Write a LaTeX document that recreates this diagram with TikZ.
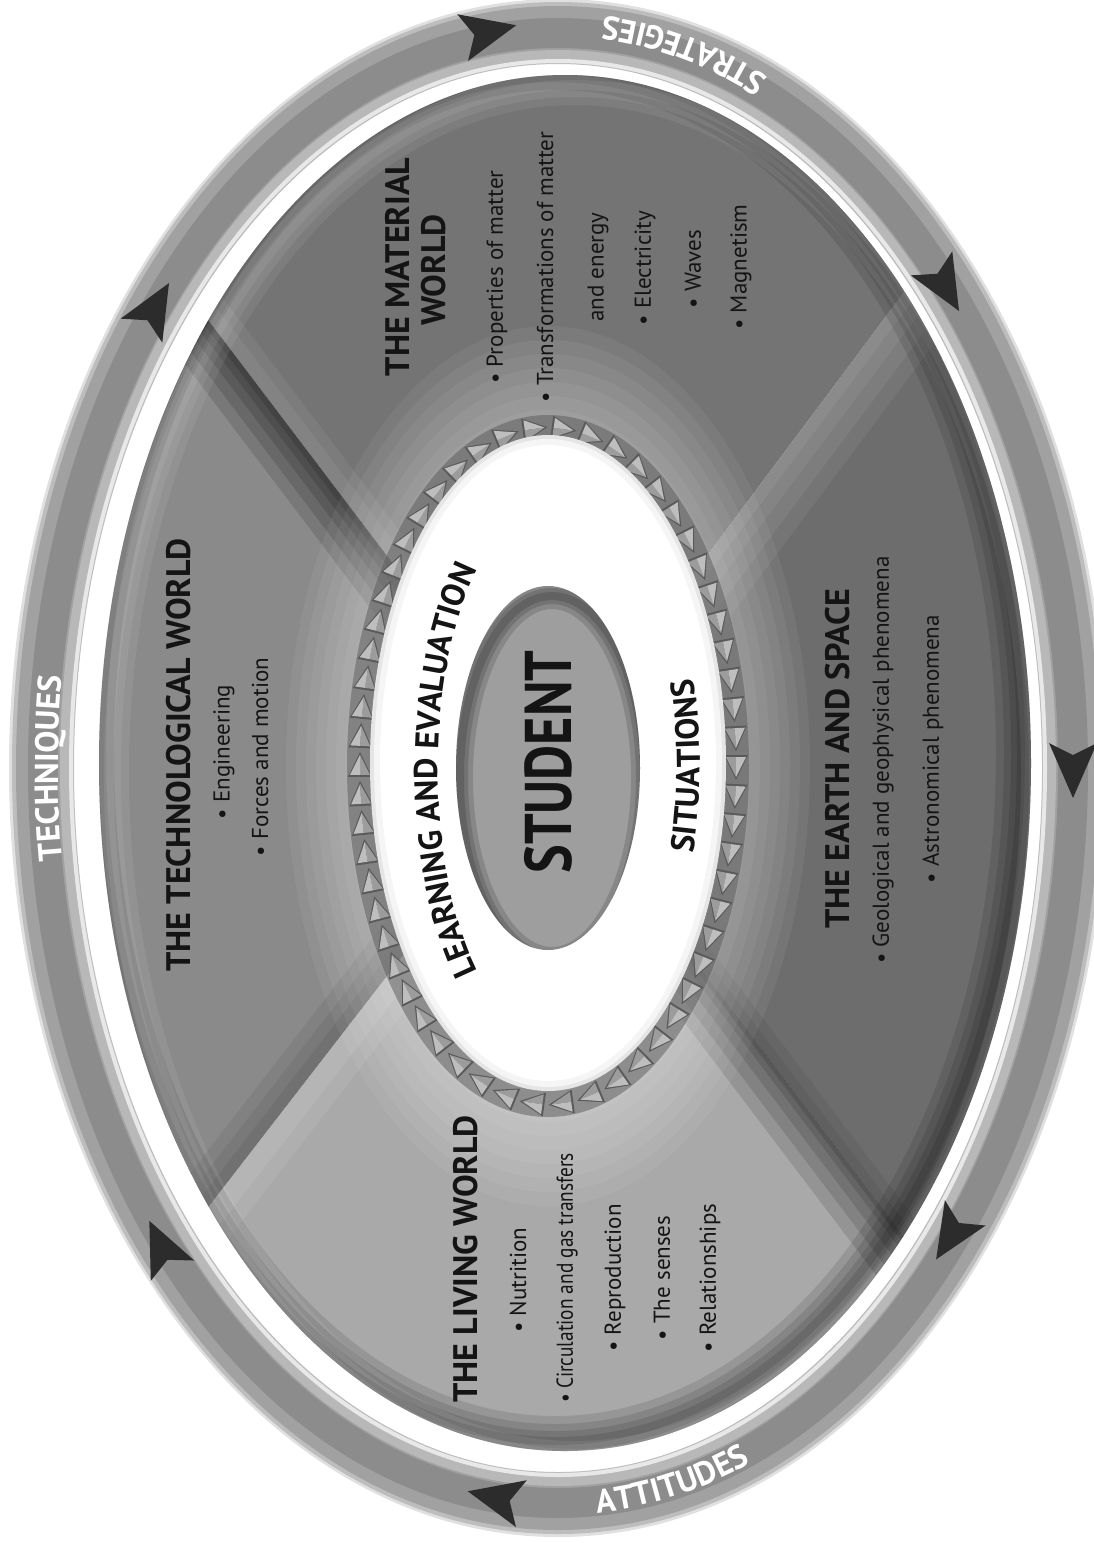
\documentclass[tikz,border=0pt]{standalone}
\usepackage{fontspec}
\usepackage{graphicx}
\setmainfont{PT Sans}
\usetikzlibrary{decorations.text,decorations.markings,calc}
\definecolor{qtop}{HTML}{747474}
\definecolor{qleft}{HTML}{8A8A8A}
\definecolor{qbot}{HTML}{A9A9A9}
\definecolor{qright}{HTML}{6D6D6D}
\definecolor{ink}{HTML}{141414}
\definecolor{arrowc}{HTML}{2C2C2C}
\definecolor{tooth}{HTML}{9C9C9C}
\definecolor{toothlt}{HTML}{BEBEBE}
\definecolor{toothdk}{HTML}{5A5A5A}
\definecolor{studentc}{HTML}{9E9E9E}
\newcommand{\hdfont}{\fontsize{34}{38}\selectfont\bfseries}
\newcommand{\bdfont}{\fontsize{23}{27}\selectfont}
\newcommand{\ringfont}{\fontsize{33}{36}\selectfont\bfseries}
\newcommand{\arcfont}{\fontsize{33}{36}\selectfont\bfseries}
\newcommand{\stfont}{\fontsize{66}{70}\selectfont\bfseries}
\newcommand{\ringarrow}[3]{\fill[arrowc, shift={(#1,#2)}, rotate=#3] (30,0) -- (-25,24) -- (-13,0) -- (-25,-24) -- cycle;}
\tikzset{
  heading/.style={rotate=90, font=\hdfont, text=ink, inner sep=0pt},
  item/.style={rotate=90, font=\bdfont, text=ink, inner sep=0pt},
}
\begin{document}
\begin{tikzpicture}[x=1pt,y=-1pt]
\useasboundingbox (0,0) rectangle (1094,1543);
\fill[white] (0,0) rectangle (1094,1543);
\begin{scope}
\clip (0,0) rectangle (1094,1543);
% ---------- outer ring ----------
\coordinate (rc) at (558,768);
\draw[line width=22, black!12] (rc) ellipse [x radius=538, y radius=758];
\draw[line width=62, black!26] (rc) ellipse [x radius=515, y radius=735];
\draw[line width=50, black!37] (rc) ellipse [x radius=517, y radius=737];
\draw[line width=30, black!45] (rc) ellipse [x radius=515, y radius=735];
\draw[line width=10, black!28] (rc) ellipse [x radius=493, y radius=713];
\draw[line width=4, black!9] (rc) ellipse [x radius=487, y radius=707];
% ring arrows
\ringarrow{154}{309}{60}
\ringarrow{487}{32}{13}
\ringarrow{944}{285}{-60}
\ringarrow{1073}{768}{-90}
\ringarrow{952}{1234}{-122}
\ringarrow{497}{1498}{167}
\ringarrow{162}{1248}{115}
% ---------- disk ----------
\coordinate (C) at (548,768);
\coordinate (UL) at (-162,-168);
\coordinate (UR) at (1238,-154);
\coordinate (LL) at (-162,1686);
\coordinate (LR) at (1238,1678);
\begin{scope}
\clip (565,763) ellipse [x radius=466, y radius=688];
\fill[qtop] (C) -- (UL) -- (UR) -- cycle;
\fill[qleft] (C) -- (UL) -- (LL) -- cycle;
\fill[qbot] (C) -- (LL) -- (LR) -- cycle;
\fill[qright] (C) -- (UR) -- (LR) -- cycle;
\begin{scope}
\clip (C) -- (UL) -- (LL) -- cycle;
\foreach \w in {90,66,44,26,12} \draw[line width=\w, black, opacity=0.13] (C) -- (UL);
\foreach \w in {70,46,24} \draw[line width=\w, black, opacity=0.06] (C) -- (LL);
\end{scope}
\begin{scope}
\clip (C) -- (UL) -- (UR) -- cycle;
\foreach \w in {50,28} \draw[line width=\w, white, opacity=0.06] (C) -- (UL);
\end{scope}
\begin{scope}
\clip (C) -- (UR) -- (LR) -- cycle;
\foreach \w in {110,80,50,24} \draw[line width=\w, white, opacity=0.06] (C) -- (UR);
\foreach \w in {40,20} \draw[line width=\w, black, opacity=0.06] (C) -- (LR);
\end{scope}
\begin{scope}
\clip (C) -- (LL) -- (LR) -- cycle;
\foreach \w in {90,64,40,20,8} \draw[line width=\w, black, opacity=0.12] (C) -- (LR);
\foreach \w in {70,40} \draw[line width=\w, white, opacity=0.08] (C) -- (LL);
\end{scope}
\foreach \w in {50,34,20,8} \draw[line width=\w, black, opacity=0.11] (555,753) ellipse [x radius=466, y radius=688];
\foreach \w in {40,24,10} \draw[line width=\w, white, opacity=0.07] (575,773) ellipse [x radius=466, y radius=688];
\foreach \i in {0,...,6} \fill[white, opacity=0.055] (548,766) ellipse [x radius={262-10*\i}, y radius={440-14*\i}];
\end{scope}
% ---------- teeth ring ----------
\draw[line width=30, black!65, opacity=0.5] (548,766) ellipse [x radius=186, y radius=336];
\path[decoration={markings, mark=between positions 0 and 0.99 step 0.01724 with {
  \fill[toothdk] (14,0) -- (-11,12) -- (-11,-12) -- cycle;
  \fill[tooth] (11,0) -- (-9,10) -- (-9,0) -- cycle;
  \fill[toothlt] (11,0) -- (-9,-10) -- (-9,0) -- cycle;}}, decorate]
  (548,766) ellipse [x radius=188, y radius=338];
\fill[black!10] (548,763) ellipse [x radius=178, y radius=328];
\fill[black!4] (548,763) ellipse [x radius=174, y radius=324];
\fill[white] (548,763) ellipse [x radius=168, y radius=318];
\fill[studentc] (548,768) ellipse [x radius=92, y radius=182];
\begin{scope}
\clip (548,768) ellipse [x radius=92, y radius=182];
\foreach \w in {26,16,8} \draw[line width=\w, black, opacity=0.14] (552,778) ellipse [x radius=92, y radius=182];
\end{scope}
\end{scope}
% ---------- texts ----------
\node[rotate=90, font=\stfont, text=ink, inner sep=0pt] (student) at (548,762) {\scalebox{0.82}[1]{STUDENT}};
\path[decorate, decoration={text along path, text align=center, text={|\arcfont\color{ink}|LEARNING AND EVALUATION}}]
  ([shift={(110:110 and 262)}]548,770) arc[start angle=110, end angle=250, x radius=110, y radius=262];
\path[decorate, decoration={text along path, text align=center, text={|\arcfont\color{ink}|SITUATIONS}}]
  ([shift={(40:152 and 300)}]548,766) arc[start angle=40, end angle=-40, x radius=152, y radius=300];
\path[decorate, decoration={text along path, text align=center, text={|\ringfont\color{white}|TECHNIQUES}}]
  ([shift={(160:500 and 713)}]558,768) arc[start angle=160, end angle=200, x radius=500, y radius=713];
\path[decorate, decoration={text along path, text align=center, text={|\ringfont\color{white}|ATTITUDES}}]
  ([shift={(96:525 and 747)}]558,768) arc[start angle=96, end angle=59, x radius=525, y radius=747];
\path[decorate, decoration={text along path, text align=center, text={|\ringfont\color{white}|STRATEGIES}}]
  ([shift={(-58:522 and 755)}]558,768) arc[start angle=-58, end angle=-94, x radius=522, y radius=755];
% material world
\node[heading] (mw1) at (397,267) {THE MATERIAL};
\node[heading] (mw2) at (434,270) {WORLD};
\node[item] (mw3) at (497,277) {• Properties of matter};
\node[item] (mw4) at (545,267) {• Transformations of matter};
\node[item] (mw5) at (598,267) {and energy};
\node[item] (mw6) at (645,268) {• Electricity};
\node[item] (mw7) at (693,269) {• Waves};
\node[item] (mw8) at (741,267) {• Magnetism};
% technological world
\node[heading] (tw1) at (179,755) {THE TECHNOLOGICAL WORLD};
\node[item] (tw2) at (224,752) {• Engineering};
\node[item] (tw3) at (260,757) {• Forces and motion};
% earth and space
\node[heading] (ew1) at (838,759) {THE EARTH AND SPACE};
\node[item] (ew2) at (883,760) {• Geological and geophysical phenomena};
\node[item] (ew3) at (933,749) {• Astronomical phenomena};
% living world
\node[heading] (lw1) at (466,1259) {THE LIVING WORLD};
\node[item] (lw2) at (518,1280) {• Nutrition};
\node[item] (lw3) at (567,1278) {\scalebox{0.84}[1]{• Circulation and gas transfers}};
\node[item] (lw4) at (615,1278) {• Reproduction};
\node[item] (lw5) at (662,1278) {• The senses};
\node[item] (lw6) at (710,1278) {• Relationships};
\end{tikzpicture}
\end{document}
